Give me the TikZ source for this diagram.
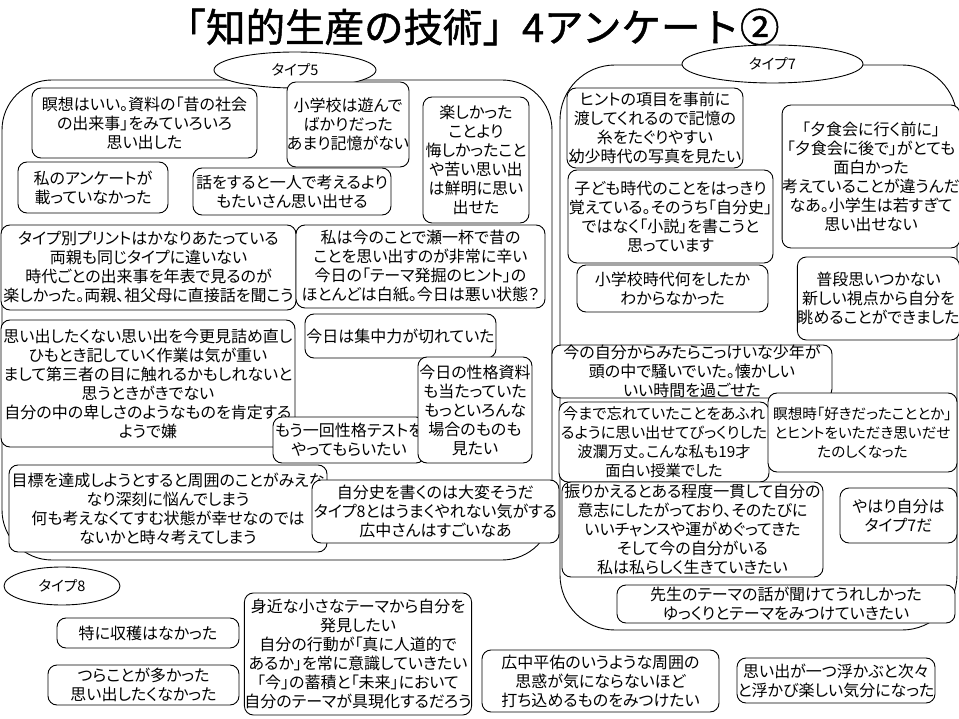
\documentclass[tikz,border=0pt]{standalone}
\usepackage{fontspec}
\setmainfont{Noto Sans CJK JP}[RawFeature=+palt]
\newfontfamily\titlefont{Noto Sans CJK JP}[FakeBold=1.2]
\usetikzlibrary{shapes.geometric}
\tikzset{
  grp/.style={draw, rounded corners=50pt, line width=0.9pt, inner sep=0pt},
  lbl/.style={draw, ellipse, fill=white, inner sep=0pt, line width=0.9pt, font=\fontsize{14.5}{16}\selectfont},
  box/.style={draw, fill=white, rounded corners=9pt, align=center, inner sep=0pt, line width=0.9pt, font=\fontsize{16}{19}\selectfont},
  smallbox/.style={box, font=\fontsize{15.3}{19}\selectfont},
  tinybox/.style={box, font=\fontsize{14.6}{19}\selectfont},
}
\newcommand\mybox[7][]{\node[box, #1, minimum width=#5pt, minimum height=#6pt] (#2) at (#3,#4) {#7};}
\begin{document}
\begin{tikzpicture}[x=1pt,y=-1pt]
\useasboundingbox[fill=white] (0,0) rectangle (959,719);
% title
\node[font=\titlefont\fontsize{39.5}{44}\selectfont] (title) at (473,27) {「知的生産の技術」4アンケート②};
% groups
\node[grp, minimum width=550pt, minimum height=480pt] (g5) at (277,320) {};
\node[grp, rounded corners=55pt, minimum width=397pt, minimum height=565pt] (g7) at (758.5,347.5) {};
% labels
\node[lbl, minimum width=162pt, minimum height=36pt] (e5) at (295,70) {タイプ5};
\node[lbl, minimum width=181pt, minimum height=38pt] (e7) at (772.5,64) {タイプ7};
\node[lbl, minimum width=116pt, minimum height=38pt] (e8) at (62,586) {タイプ8};
% type 5
\mybox{b1}{144.5}{123}{225}{70}{瞑想はいい。資料の「昔の社会\\の出来事」をみていろいろ\\思い出した}
\mybox{b2}{348}{124.5}{118}{85}{小学校は遊んで\\ばかりだった\\あまり記憶がない}
\mybox{b3}{476}{160}{106}{126}{楽しかった\\ことより\\悔しかったこと\\や苦い思い出\\は鮮明に思い\\出せた}
\mybox{b4}{93}{187.5}{150}{51}{私のアンケートが\\載っていなかった}
\mybox{b5}{292}{191.5}{198}{47}{話をすると一人で考えるより\\もたいさん思い出せる}
\mybox{b6}{148.5}{267.5}{295}{85}{タイプ別プリントはかなりあたっている\\両親も同じタイプに違いない\\時代ごとの出来事を年表で見るのが\\楽しかった。両親、祖父母に直接話を聞こう}
\mybox{b7}{420.5}{266.5}{249}{83}{私は今のことで瀬一杯で昔の\\ことを思い出すのが非常に辛い\\今日の「テーマ発掘のヒント」の\\ほとんどは白紙。今日は悪い状態？}
\mybox{b8}{400.5}{336}{191}{44}{今日は集中力が切れていた}
\mybox{b9}{148}{383.5}{294}{127}{思い出したくない思い出を今更見詰め直し\\ひもとき記していく作業は気が重い\\まして第三者の目に触れるかもしれないと\\思うときがきでない\\自分の中の卑しさのようなものを肯定する\\ようで嫌}
\mybox{b10}{349}{440}{152}{46}{もう一回性格テストを\\やってもらいたい}
\mybox{b11}{475}{410}{114}{106}{今日の性格資料\\も当たっていた\\もっといろんな\\場合のものも\\見たい}
\mybox{b12}{168}{508.5}{318}{87}{目標を達成しようとすると周囲のことがみえな\\なり深刻に悩んでしまう\\何も考えなくてすむ状態が幸せなのでは\\ないかと時々考えてしまう}
\mybox{b13}{435.5}{511.5}{247}{63}{自分史を書くのは大変そうだ\\タイプ8とはうまくやれない気がする\\広中さんはすごいなあ}
% type 8
\mybox{b14}{148}{633}{182}{30}{特に収穫はなかった}
\mybox{b15}{143.5}{685}{191}{40}{つらことが多かった\\思い出したくなかった}
\mybox{b16}{358}{654}{220}{122}{身近な小さなテーマから自分を\\発見したい\\自分の行動が「真に人道的で\\あるか」を常に意識していきたい\\「今」の蓄積と「未来」において\\自分のテーマが具現化するだろう}
\mybox{b17}{600.5}{681}{237}{62}{広中平佑のいうような周囲の\\思惑が気にならないほど\\打ち込めるものをみつけたい}
\mybox{b18}{836}{680.5}{198}{45}{思い出が一つ浮かぶと次々\\と浮かび楽しい気分になった}
% type 7
\mybox{b19}{786}{604}{338}{38}{先生のテーマの話が聞けてうれしかった\\ゆっくりとテーマをみつけていきたい}
\mybox{b20}{655}{128}{176}{80}{ヒントの項目を事前に\\渡してくれるので記憶の\\糸をたぐりやすい\\幼少時代の写真を見たい}
\mybox{b21}{670.5}{216.5}{205}{93}{子ども時代のことをはっきり\\覚えている。そのうち「自分史」\\ではなく「小説」を書こうと\\思っています}
\mybox{b22}{672.5}{288.5}{191}{47}{小学校時代何をしたか\\わからなかった}
\mybox{b23}{871}{176.5}{172}{143}{「夕食会に行く前に」\\「夕食会に後で」がとても\\面白かった\\考えていることが違うんだ\\なあ。小学生は若すぎて\\思い出せない}
\mybox{b24}{878.5}{298.5}{157}{83}{普段思いつかない\\新しい視点から自分を\\眺めることができました}
\mybox{b25}{692}{371.5}{280}{53}{今の自分からみたらこっけいな少年が\\頭の中で騒いでいた。懐かしい\\いい時間を過ごせた}
\mybox[smallbox]{b26}{664}{442}{210}{80}{今まで忘れていたことをあふれ\\るように思い出せてびっくりした\\波瀾万丈。こんな私も19才\\面白い授業でした}
\mybox[tinybox]{b27}{862.5}{432.5}{189}{79}{瞑想時「好きだったこととか」\\とヒントをいただき思いだせ\\たのしくなった}
\mybox{b28}{692.5}{529.5}{261}{95}{振りかえるとある程度一貫して自分の\\意志にしたがっており、そのたびに\\いいチャンスや運がめぐってきた\\そして今の自分がいる\\私は私らしく生きていきたい}
\mybox{b29}{898.5}{515.5}{117}{55}{やはり自分は\\タイプ7だ}
\end{tikzpicture}
\end{document}
